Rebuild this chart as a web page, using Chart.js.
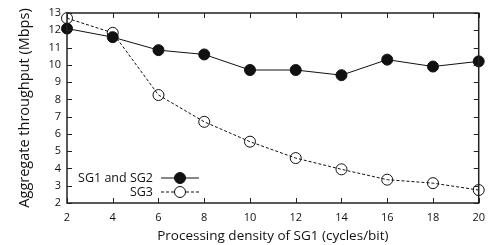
<!DOCTYPE html>
<html>
<head>
<meta charset="utf-8">
<script src="https://cdn.jsdelivr.net/npm/chart.js@4.4.1/dist/chart.umd.min.js"></script>
<style>
    html, body { margin: 0; padding: 0; background: #fff; }
    #wrap { width: 493px; height: 245px; }
</style>
</head>
<body>
<div id="wrap"><canvas id="chart" width="493" height="245"></canvas></div>
<script>
// data
const densities = [2, 4, 6, 8, 10, 12, 14, 16, 18, 20];
const sg12Throughput = [12.1, 11.6, 10.85, 10.6, 9.7, 9.7, 9.4, 10.3, 9.9, 10.2];
const sg3Throughput = [12.7, 11.85, 8.25, 6.7, 5.55, 4.6, 3.95, 3.35, 3.15, 2.75];
const xTicks = [2, 4, 6, 8, 10, 12, 14, 16, 18, 20];
const yTicks = [2, 3, 4, 5, 6, 7, 8, 9, 10, 11, 12, 13];

const FONT = "'Open Sans', 'DejaVu Sans', sans-serif";

function toPoints(xs, ys) {
    return xs.map((x, i) => ({ x: x, y: ys[i] }));
}

// frame + inward ticks on all four sides
const framePlugin = {
    id: 'frame',
    afterDraw(chart) {
        const ctx = chart.ctx;
        const a = chart.chartArea;
        const xs = chart.scales.x, ys = chart.scales.y;
        ctx.save();
        ctx.strokeStyle = '#222';
        ctx.lineWidth = 1.5;
        ctx.strokeRect(a.left, a.top, a.right - a.left, a.bottom - a.top);
        ctx.lineWidth = 1;
        xTicks.forEach(t => {
            const px = Math.round(xs.getPixelForValue(t)) + 0.5;
            ctx.beginPath();
            ctx.moveTo(px, a.bottom); ctx.lineTo(px, a.bottom - 5);
            ctx.moveTo(px, a.top); ctx.lineTo(px, a.top + 5);
            ctx.stroke();
        });
        yTicks.forEach(t => {
            const py = Math.round(ys.getPixelForValue(t)) + 0.5;
            ctx.beginPath();
            ctx.moveTo(a.left, py); ctx.lineTo(a.left + 5, py);
            ctx.moveTo(a.right, py); ctx.lineTo(a.right - 5, py);
            ctx.stroke();
        });
        ctx.restore();
    }
};

// legend in the lower left, text to the left of the sample
const legendPlugin = {
    id: 'sideLegend',
    afterDraw(chart) {
        const ctx = chart.ctx;
        const rows = [
            { label: 'SG1 and SG2', y: 178, dash: [], fill: true },
            { label: 'SG3', y: 192, dash: [3, 2], fill: false }
        ];
        ctx.save();
        ctx.font = '12.5px ' + FONT;
        ctx.textAlign = 'right';
        ctx.textBaseline = 'middle';
        rows.forEach(r => {
            ctx.fillStyle = '#111';
            ctx.fillText(r.label, 153, r.y);
            ctx.strokeStyle = '#111';
            ctx.lineWidth = 1;
            ctx.setLineDash(r.dash);
            ctx.beginPath();
            ctx.moveTo(161, r.y); ctx.lineTo(199, r.y);
            ctx.stroke();
            ctx.setLineDash([]);
            ctx.beginPath();
            ctx.arc(180, r.y, 5.5, 0, Math.PI * 2);
            ctx.fillStyle = r.fill ? '#111' : '#fff';
            ctx.fill();
            ctx.stroke();
        });
        ctx.restore();
    }
};

new Chart(document.getElementById('chart').getContext('2d'), {
    type: 'line',
    data: {
        datasets: [{
            label: 'SG1 and SG2',
            data: toPoints(densities, sg12Throughput),
            borderColor: '#111',
            borderWidth: 1,
            pointRadius: 5.5,
            pointBackgroundColor: '#111',
            pointBorderColor: '#111',
            pointBorderWidth: 1,
            tension: 0
        }, {
            label: 'SG3',
            data: toPoints(densities, sg3Throughput),
            borderColor: '#111',
            borderWidth: 1,
            borderDash: [3, 2],
            pointRadius: 5.5,
            pointBackgroundColor: 'rgba(255,255,255,0)',
            pointBorderColor: '#111',
            pointBorderWidth: 1,
            tension: 0
        }]
    },
    options: {
        responsive: false,
        animation: false,
        clip: false,
        layout: { padding: { left: 0, right: 7, top: 13, bottom: 0 } },
        plugins: {
            legend: { display: false },
            tooltip: { enabled: false }
        },
        scales: {
            x: {
                type: 'linear',
                min: 2,
                max: 20,
                grid: { display: false, drawTicks: false },
                border: { display: false },
                afterBuildTicks: s => { s.ticks = xTicks.map(v => ({ value: v })); },
                afterFit: s => { s.height = 42; },
                ticks: {
                    padding: 8,
                    color: '#111',
                    font: { family: FONT, size: 11 },
                    maxRotation: 0
                },
                title: {
                    display: true,
                    text: 'Processing density of SG1 (cycles/bit)',
                    color: '#111',
                    font: { family: FONT, size: 13.5 },
                    padding: { top: 2, bottom: 1 }
                }
            },
            y: {
                min: 2,
                max: 13,
                grid: { display: false, drawTicks: false },
                border: { display: false },
                afterBuildTicks: s => { s.ticks = yTicks.map(v => ({ value: v })); },
                afterFit: s => { s.width = 67; },
                ticks: {
                    padding: 6,
                    color: '#111',
                    font: { family: FONT, size: 11 }
                },
                title: {
                    display: true,
                    text: 'Aggregate throughput (Mbps)',
                    color: '#111',
                    font: { family: FONT, size: 14.5 },
                    padding: { top: 16, bottom: 0 }
                }
            }
        }
    },
    plugins: [framePlugin, legendPlugin]
});
</script>
</body>
</html>
